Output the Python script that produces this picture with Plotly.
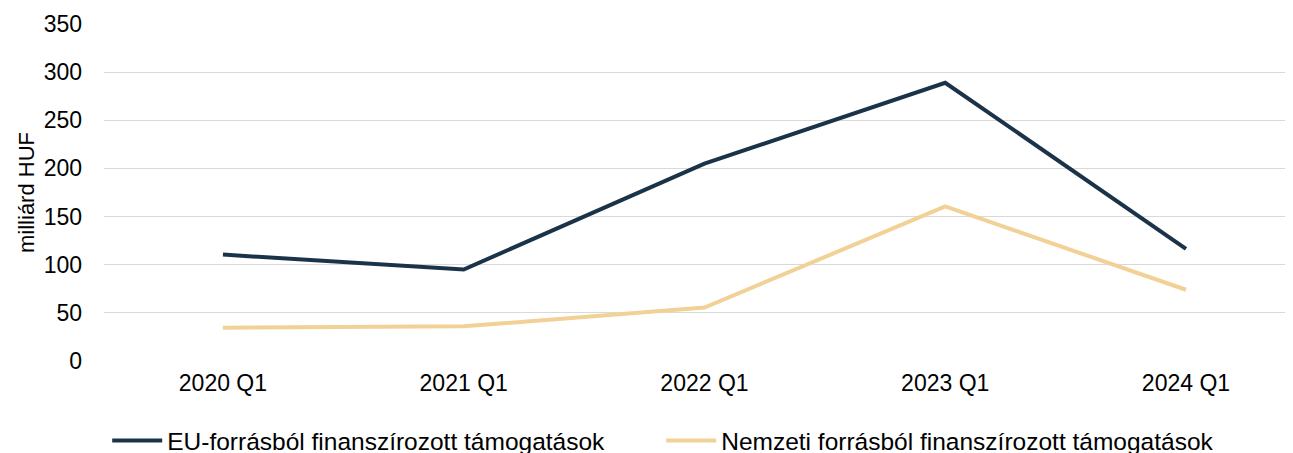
import plotly.graph_objects as go

# negyedéves adatok, milliárd HUF
negyedevek = ["2020 Q1", "2021 Q1", "2022 Q1", "2023 Q1", "2024 Q1"]
eu_forras = [110.5, 95, 205, 289, 116.5]
nemzeti_forras = [34.5, 36, 55.5, 160.5, 74]

fig = go.Figure()
fig.add_trace(go.Scatter(
    x=negyedevek, y=eu_forras, mode="lines",
    name="EU-forrásból finanszírozott támogatások",
    line=dict(color="#1b3349", width=4),
))
fig.add_trace(go.Scatter(
    x=negyedevek, y=nemzeti_forras, mode="lines",
    name="Nemzeti forrásból finanszírozott támogatások",
    line=dict(color="#f2d196", width=4),
))

fig.update_layout(
    width=1293, height=453,
    margin=dict(l=96, r=11, t=16, b=99.5, autoexpand=False),
    plot_bgcolor="white", paper_bgcolor="white",
    font=dict(family="Liberation Sans, Arial, sans-serif", size=23, color="#000000"),
    legend=dict(
        orientation="h", x=0.0027, xanchor="left", y=-0.236, yanchor="middle",
        entrywidth=489, entrywidthmode="pixels", itemwidth=50,
        font=dict(size=24.5),
    ),
    showlegend=True,
)
fig.update_xaxes(
    range=[-0.494, 4.432], showgrid=False, zeroline=False, automargin=False,
    showline=False, ticks="", ticklabelstandoff=6,
)
fig.update_yaxes(
    range=[0, 350], dtick=50, showgrid=True, gridcolor="#d9d9d9", gridwidth=1,
    zeroline=False, showline=False, ticklabelstandoff=21, automargin=False,
    title=dict(text="milliárd HUF", font=dict(size=22), standoff=2),
)

fig.write_html("out.html")
